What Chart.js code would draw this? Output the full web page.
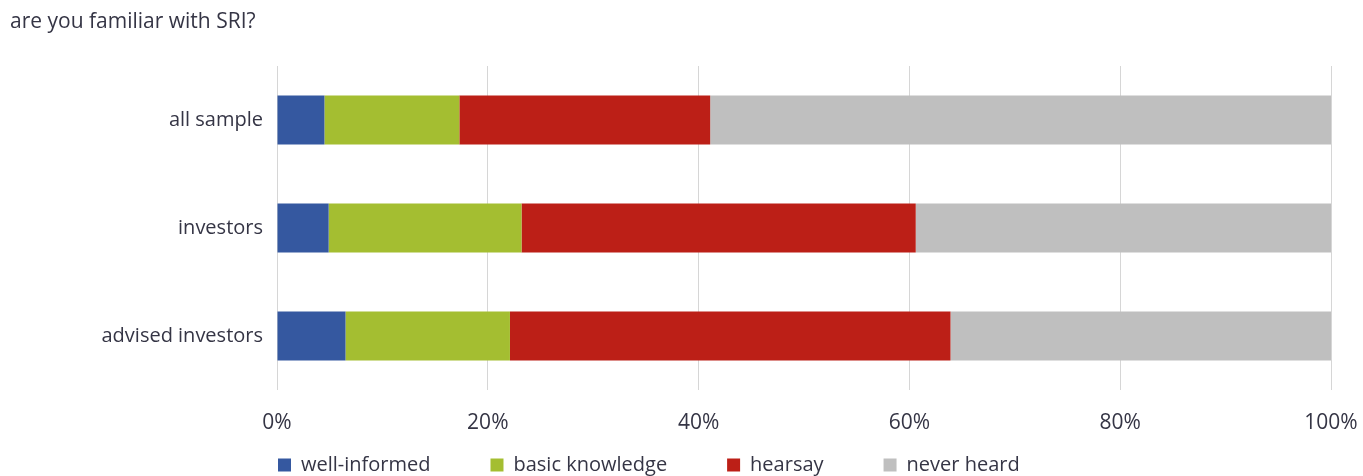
<!DOCTYPE html>
<html>
<head>
<meta charset="utf-8">
<script src="https://cdn.jsdelivr.net/npm/chart.js@4.4.1/dist/chart.umd.min.js"></script>
<style>
  html, body { margin: 0; padding: 0; background: #ffffff; }
  #wrap { width: 1363px; height: 476px; position: relative; }
</style>
</head>
<body>
<div id="wrap"><canvas id="c"></canvas></div>
<script>
const categories = ["all sample", "investors", "advised investors"];
const wellInformed = [4.5, 4.9, 6.5];
const basicKnowledge = [12.8, 18.3, 15.6];
const hearsay = [23.8, 37.4, 41.8];
const neverHeard = [58.9, 39.4, 36.1];
const seriesNames = ["well-informed", "basic knowledge", "hearsay", "never heard"];
const tickValues = [0, 20, 40, 60, 80, 100];
const titleText = "are you familiar with SRI?";

const FONT = "'Open Sans', 'DejaVu Sans', sans-serif";
const TEXT = "#353545";

const legendPlacer = {
  id: 'legendPlacer',
  beforeDraw(chart) {
    const lg = chart.legend;
    if (!lg) return;
    const pad = lg.options.labels.padding;
    const w = lg.right - lg.left;
    lg.left = chart.chartArea.left + 1 - pad;
    lg.right = lg.left + w;
    lg.top = 465 - pad - 10;
  }
};

new Chart(document.getElementById('c'), {
  type: 'bar',
  data: {
    labels: categories,
    datasets: [
      { label: seriesNames[0], data: wellInformed, backgroundColor: '#3558a0' },
      { label: seriesNames[1], data: basicKnowledge, backgroundColor: '#a4be31' },
      { label: seriesNames[2], data: hearsay, backgroundColor: '#bc1f17' },
      { label: seriesNames[3], data: neverHeard, backgroundColor: '#bfbfbf' }
    ]
  },
  options: {
    indexAxis: 'y',
    responsive: true,
    maintainAspectRatio: false,
    animation: false,
    datasets: { bar: { borderWidth: 0, barPercentage: 0.455, categoryPercentage: 1 } },
    layout: { padding: { left: 10, right: 32, top: 0, bottom: 0 } },
    scales: {
      x: {
        stacked: true,
        min: 0,
        max: 100,
        afterBuildTicks(scale) { scale.ticks = tickValues.map(v => ({ value: v })); },
        afterFit(scale) { scale.height = 46; scale.paddingRight = 0; scale.paddingLeft = 0; },
        grid: { color: '#d6d6d6', lineWidth: 1, drawTicks: false },
        border: { display: false },
        ticks: {
          padding: 20,
          color: TEXT,
          font: { family: FONT, size: 21 },
          callback: v => v + '%'
        }
      },
      y: {
        stacked: true,
        afterFit(scale) { scale.width = 267; },
        grid: { display: false, drawTicks: false },
        border: { display: false },
        ticks: {
          padding: 14,
          color: TEXT,
          font: { family: FONT, size: 20 }
        }
      }
    },
    plugins: {
      title: {
        display: true,
        text: titleText,
        align: 'start',
        color: TEXT,
        font: { family: FONT, size: 21, weight: 'normal', lineHeight: 1.2 },
        padding: { top: 9.5, bottom: 31.3 }
      },
      legend: {
        display: true,
        position: 'bottom',
        align: 'start',
        maxHeight: 40,
        labels: {
          color: TEXT,
          font: { family: FONT, size: 20 },
          boxWidth: 13,
          boxHeight: 13,
          padding: 60
        }
      },
      tooltip: { enabled: false }
    }
  },
  plugins: [legendPlacer]
});
</script>
</body>
</html>
